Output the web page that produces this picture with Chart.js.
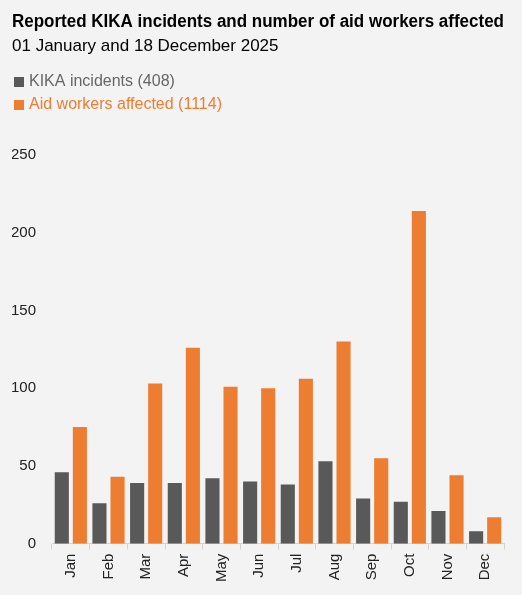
<!DOCTYPE html>
<html>
<head>
<meta charset="utf-8">
<script src="https://cdn.jsdelivr.net/npm/chart.js@4"></script>
<style>
  html, body { margin: 0; padding: 0; background: #f3f3f3; }
  #wrap { width: 522px; height: 595px; }
</style>
</head>
<body>
<div id="wrap"><canvas id="kika-chart"></canvas></div>
<script>
var months = ['Jan', 'Feb', 'Mar', 'Apr', 'May', 'Jun', 'Jul', 'Aug', 'Sep', 'Oct', 'Nov', 'Dec'];
var incidents = [46, 26, 39, 39, 42, 40, 38, 53, 29, 27, 21, 8];
var aidWorkers = [75, 43, 103, 126, 101, 100, 106, 130, 55, 214, 44, 17];
var yTicks = [0, 50, 100, 150, 200, 250];

var FONT = "'Liberation Sans Narrow', 'Arial Narrow', 'Liberation Sans', Arial, sans-serif";
var GREY = '#595959';
var ORANGE = '#ED7D31';

function total(arr) {
    return arr.reduce(function (a, b) { return a + b; }, 0);
}

// legend drawn as two stacked rows under the subtitle
var stackedLegend = {
    id: 'stackedLegend',
    afterDraw: function (chart, args, opts) {
        var ctx = chart.ctx;
        ctx.save();
        ctx.font = opts.fontSize + 'px ' + FONT;
        ctx.textBaseline = 'middle';
        chart.data.datasets.forEach(function (ds, i) {
            var y = opts.top + i * opts.rowHeight;
            ctx.fillStyle = ds.backgroundColor;
            ctx.fillRect(opts.left, y - opts.box / 2, opts.box, opts.box);
            ctx.fillStyle = opts.textColors[i];
            ctx.fillText(ds.label, opts.left + opts.box + 5, y);
        });
        ctx.restore();
    }
};

new Chart(document.getElementById('kika-chart'), {
    type: 'bar',
    data: {
        labels: months,
        datasets: [{
            label: 'KIKA incidents (' + total(incidents) + ')',
            data: incidents,
            backgroundColor: GREY
        }, {
            label: 'Aid workers affected (' + total(aidWorkers) + ')',
            data: aidWorkers,
            backgroundColor: ORANGE
        }]
    },
    options: {
        responsive: true,
        maintainAspectRatio: false,
        animation: false,
        datasets: {
            bar: {
                categoryPercentage: 0.96,
                barPercentage: 0.78
            }
        },
        layout: {
            padding: {left: 12, right: 18, top: 0, bottom: 9}
        },
        scales: {
            x: {
                grid: {
                    display: true,
                    drawOnChartArea: false,
                    drawTicks: true,
                    tickLength: 6,
                    color: '#d4d4d4'
                },
                border: {display: true, color: '#d4d4d4', width: 1},
                ticks: {
                    color: '#222',
                    font: {family: FONT, size: 15},
                    minRotation: 90,
                    maxRotation: 90,
                    padding: 4
                }
            },
            y: {
                min: 0,
                max: 250,
                afterBuildTicks: function (axis) {
                    axis.ticks = yTicks.map(function (v) { return {value: v}; });
                },
                afterFit: function (axis) {
                    axis.width = 40;
                },
                grid: {display: false, drawTicks: false},
                border: {display: false},
                ticks: {
                    color: '#222',
                    font: {family: FONT, size: 15},
                    padding: 16
                }
            }
        },
        plugins: {
            title: {
                display: true,
                text: 'Reported KIKA incidents and number of aid workers affected',
                align: 'start',
                color: '#000',
                font: {family: FONT, size: 18, weight: 'bold', lineHeight: 1.2},
                padding: {top: 11, bottom: 4}
            },
            subtitle: {
                display: true,
                text: '01 January and 18 December 2025',
                align: 'start',
                color: '#000',
                font: {family: FONT, size: 17, lineHeight: 1.2},
                padding: {top: 0, bottom: 98}
            },
            legend: {display: false},
            tooltip: {enabled: false},
            stackedLegend: {
                left: 14,
                top: 82,
                rowHeight: 23,
                box: 10,
                fontSize: 16,
                textColors: ['#666666', ORANGE]
            }
        }
    },
    plugins: [stackedLegend]
});
</script>
</body>
</html>
